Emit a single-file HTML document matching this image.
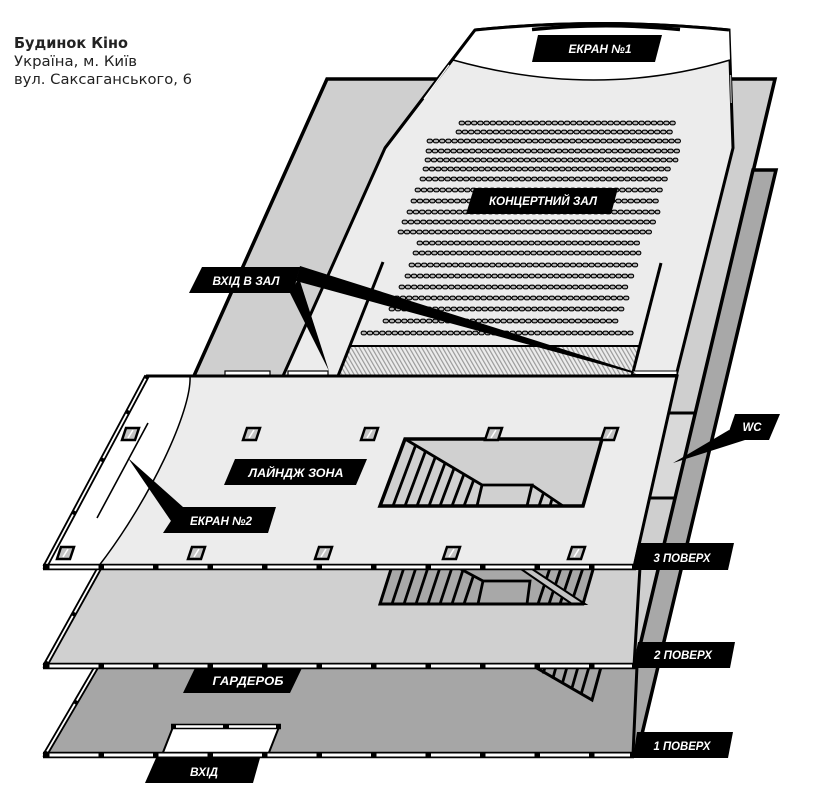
<!DOCTYPE html>
<html><head><meta charset="utf-8"><style>
html,body{margin:0;padding:0;background:#fff;}
svg{display:block;}
.so{stroke:#000;stroke-width:4.8;stroke-dasharray:1.6 4.6;stroke-linecap:round;fill:none}
.si{stroke:#b4b4b4;stroke-width:2.6;stroke-dasharray:1.6 4.6;stroke-linecap:round;fill:none}
.lb{font-family:"Liberation Sans",sans-serif;font-weight:bold;font-style:italic;font-size:12px;fill:#fff;}
.st{stroke:#000;stroke-width:2.8;fill:none}
.col{fill:#c4c4c4;stroke:#000;stroke-width:2.5}
.cw{stroke:#fff;stroke-width:1.6}
</style></head><body>
<svg xmlns="http://www.w3.org/2000/svg" width="814" height="808" viewBox="0 0 814 808">
<defs>
<pattern id="hatch" width="3.6" height="3.6" patternUnits="userSpaceOnUse" patternTransform="rotate(-30)">
<rect width="3.6" height="3.6" fill="#ececec"/><rect width="1.2" height="3.6" fill="#9a9a9a"/></pattern>
</defs>
<rect width="814" height="808" fill="#fff"/>

<!-- title -->
<text x="14" y="48" font-family="DejaVu Sans, Liberation Sans, sans-serif" font-weight="bold" font-size="15" fill="#222" textLength="114" lengthAdjust="spacingAndGlyphs">Будинок Кіно</text>
<text x="14" y="66" font-family="DejaVu Sans, Liberation Sans, sans-serif" font-size="14" fill="#222" textLength="123" lengthAdjust="spacingAndGlyphs">Україна, м. Київ</text>
<text x="14" y="84" font-family="DejaVu Sans, Liberation Sans, sans-serif" font-size="14" fill="#222" textLength="178" lengthAdjust="spacingAndGlyphs">вул. Саксаганського, 6</text>

<!-- back panel A -->
<polygon points="327,79 775,79 636,666 64,666" fill="#cfcfcf" stroke="#000" stroke-width="3.5"/>
<!-- WC box -->
<polygon points="640,413 696,413 676,498 620,498" fill="#d9d9d9"/>
<line x1="640" y1="413" x2="696" y2="413" stroke="#000" stroke-width="3"/>
<line x1="620" y1="498" x2="676" y2="498" stroke="#000" stroke-width="3"/>
<!-- panel B -->
<polygon points="753,170 776,170 637,755 614,755" fill="#a8a8a8" stroke="#000" stroke-width="3.5"/>

<!-- hall -->
<path d="M475,30 Q602,17 729,30 L733,148 L676,376 L283,376 L385,148 Z" fill="#ececec" stroke="#000" stroke-width="3"/>
<path d="M475,30 Q602,17 729,30 L730,60 Q596,100 453,60 Z" fill="#fff"/>
<path d="M730,60 Q596,100 453,60" fill="none" stroke="#000" stroke-width="1.5"/>
<path d="M475,30 Q602,17 729,30" fill="none" stroke="#000" stroke-width="3"/>
<line x1="475" y1="30" x2="385" y2="148" stroke="#000" stroke-width="3"/>
<line x1="449" y1="65" x2="424" y2="99" stroke="#fff" stroke-width="1.2"/>
<line x1="730.5" y1="75" x2="731.3" y2="103" stroke="#aaa" stroke-width="1.3"/>
<path d="M532,29.5 Q606,22 680,29.5" fill="none" stroke="#000" stroke-width="3.5"/>

<!-- seats -->
<g>
<line class="so" x1="461" y1="123" x2="675" y2="123"/><line class="si" x1="461" y1="123" x2="675" y2="123"/>
<line class="so" x1="458" y1="132" x2="673" y2="132"/><line class="si" x1="458" y1="132" x2="673" y2="132"/>
<line class="so" x1="429" y1="141" x2="680" y2="141"/><line class="si" x1="429" y1="141" x2="680" y2="141"/>
<line class="so" x1="428" y1="151" x2="678" y2="151"/><line class="si" x1="428" y1="151" x2="678" y2="151"/>
<line class="so" x1="427" y1="160" x2="676" y2="160"/><line class="si" x1="427" y1="160" x2="676" y2="160"/>
<line class="so" x1="425" y1="169" x2="670" y2="169"/><line class="si" x1="425" y1="169" x2="670" y2="169"/>
<line class="so" x1="422" y1="179" x2="667" y2="179"/><line class="si" x1="422" y1="179" x2="667" y2="179"/>
<line class="so" x1="417" y1="190" x2="663" y2="190"/><line class="si" x1="417" y1="190" x2="663" y2="190"/>
<line class="so" x1="413" y1="201" x2="660" y2="201"/><line class="si" x1="413" y1="201" x2="660" y2="201"/>
<line class="so" x1="409" y1="212" x2="658" y2="212"/><line class="si" x1="409" y1="212" x2="658" y2="212"/>
<line class="so" x1="404" y1="222" x2="655" y2="222"/><line class="si" x1="404" y1="222" x2="655" y2="222"/>
<line class="so" x1="400" y1="232" x2="652" y2="232"/><line class="si" x1="400" y1="232" x2="652" y2="232"/>
<line class="so" x1="419" y1="243" x2="642" y2="243"/><line class="si" x1="419" y1="243" x2="642" y2="243"/>
<line class="so" x1="415" y1="253" x2="639" y2="253"/><line class="si" x1="415" y1="253" x2="639" y2="253"/>
<line class="so" x1="411" y1="265" x2="636" y2="265"/><line class="si" x1="411" y1="265" x2="636" y2="265"/>
<line class="so" x1="407" y1="276" x2="633" y2="276"/><line class="si" x1="407" y1="276" x2="633" y2="276"/>
<line class="so" x1="401" y1="287" x2="630" y2="287"/><line class="si" x1="401" y1="287" x2="630" y2="287"/>
<line class="so" x1="396" y1="298" x2="627" y2="298"/><line class="si" x1="396" y1="298" x2="627" y2="298"/>
<line class="so" x1="391" y1="309" x2="624" y2="309"/><line class="si" x1="391" y1="309" x2="624" y2="309"/>
<line class="so" x1="385" y1="321" x2="620" y2="321"/><line class="si" x1="385" y1="321" x2="620" y2="321"/>
<line class="so" x1="363" y1="333" x2="634" y2="333"/><line class="si" x1="363" y1="333" x2="634" y2="333"/>
</g>

<!-- hatched band and inner walls -->
<polygon points="350,346 639,346 632,375 339,375" fill="url(#hatch)"/>
<line x1="350" y1="346" x2="639" y2="346" stroke="#000" stroke-width="2"/>
<line x1="383" y1="262" x2="338" y2="376" stroke="#000" stroke-width="3"/>
<line x1="661" y1="263" x2="632" y2="376" stroke="#000" stroke-width="3"/>

<!-- hall labels -->
<polygon points="538,35 662,35 655,62 532,62" fill="#000"/>
<text class="lb" x="600" y="53" text-anchor="middle" textLength="63" lengthAdjust="spacingAndGlyphs">ЕКРАН №1</text>
<polygon points="474,188 618,188 611,214 466,214" fill="#000"/>
<text class="lb" x="543" y="205" text-anchor="middle" textLength="108" lengthAdjust="spacingAndGlyphs">КОНЦЕРТНИЙ ЗАЛ</text>

<!-- window bars at floor 3 top -->
<rect x="225" y="371" width="45" height="4.5" fill="#fff" stroke="#000" stroke-width="1.2"/>
<rect x="288" y="371" width="40" height="4.5" fill="#fff" stroke="#000" stroke-width="1.2"/>
<rect x="633" y="371" width="44" height="3.5" fill="#fff" stroke="#000" stroke-width="1"/>

<!-- floor 1 -->
<polygon points="97,666 637,666 633,755 45,755" fill="#a6a6a6" stroke="#000" stroke-width="3"/>
<polygon points="535,667 601,667 592,700" fill="#a6a6a6"/>
<g class="st">
<line x1="545" y1="667" x2="543.3" y2="673.6"/>
<line x1="556" y1="667" x2="552.8" y2="678.7"/>
<line x1="567" y1="667" x2="562.2" y2="683.9"/>
<line x1="578" y1="667" x2="571.7" y2="689"/>
<line x1="589" y1="667" x2="581.1" y2="694.2"/>
</g>
<polygon points="535,667 601,667 592,700" fill="none" stroke="#000" stroke-width="3"/>
<polygon points="173,727 279,727 268,755 162,755" fill="#fff" stroke="#000" stroke-width="2"/>
<line x1="171" y1="726.5" x2="281" y2="726.5" stroke="#000" stroke-width="5.5"/>
<line x1="176" y1="726.5" x2="223" y2="726.5" stroke="#fff" stroke-width="2.6"/>
<line x1="229" y1="726.5" x2="276" y2="726.5" stroke="#fff" stroke-width="2.6"/>

<!-- floor 2 -->
<polygon points="100,567 640,567 634,666 45,666" fill="#d0d0d0" stroke="#000" stroke-width="3"/>
<polygon points="392,566 594,566 583,604 380,604" fill="#a8a8a8"/>
<g class="st">
<line x1="392" y1="604" x2="404.5" y2="566"/>
<line x1="404" y1="604" x2="416.5" y2="566"/>
<line x1="416" y1="604" x2="428.5" y2="566"/>
<line x1="428" y1="604" x2="440.5" y2="566"/>
<line x1="440" y1="604" x2="452.5" y2="566"/>
<line x1="452" y1="604" x2="463" y2="570"/>
<line x1="464" y1="604" x2="473.4" y2="575.8"/>
<line x1="455" y1="566" x2="483" y2="581"/>
<polyline points="478,604 483,581 530,581 527,604"/>
<line x1="538" y1="604" x2="550" y2="568"/>
<line x1="549" y1="604" x2="561" y2="568"/>
<line x1="560" y1="604" x2="572" y2="568"/>
<line x1="571" y1="604" x2="583" y2="568"/>
</g>
<polygon points="518,567 529,567 585,604 572,604" fill="#c4c4c4" stroke="#000" stroke-width="2"/>
<polygon points="392,566 594,566 583,604 380,604" fill="none" stroke="#000" stroke-width="3"/>

<!-- floor 3 -->
<polygon points="147,376 677,376 634,567 45,567" fill="#ececec" stroke="#000" stroke-width="3"/>
<path d="M147,376 L190,376 C192,410 150,500 98,567 L45,567 Z" fill="#fff"/>
<path d="M190,376 C192,410 150,500 98,567" fill="none" stroke="#000" stroke-width="1.5"/>
<line x1="148" y1="423" x2="97" y2="518" stroke="#000" stroke-width="1.6"/>
<line x1="147" y1="376" x2="677" y2="376" stroke="#000" stroke-width="3"/>

<!-- stairwell floor 3 -->
<polygon points="405,439 602,439 583,506 380,506" fill="#d0d0d0"/>
<g class="st">
<line x1="393" y1="506" x2="415.6" y2="445.4"/>
<line x1="405" y1="506" x2="425.5" y2="451.2"/>
<line x1="417" y1="506" x2="435.3" y2="457.1"/>
<line x1="429" y1="506" x2="445.1" y2="462.9"/>
<line x1="440" y1="506" x2="454.1" y2="468.3"/>
<line x1="452" y1="506" x2="463.9" y2="474.2"/>
<line x1="464" y1="506" x2="473.7" y2="480"/>
<line x1="405" y1="439" x2="482" y2="485"/>
<polyline points="477,506 482,485 532,485 527,506"/>
<line x1="532" y1="485" x2="563" y2="506"/>
<line x1="539" y1="506" x2="543.5" y2="493"/>
<line x1="550" y1="506" x2="552" y2="499"/>
</g>
<polygon points="405,439 602,439 583,506 380,506" fill="none" stroke="#000" stroke-width="3.5"/>

<!-- columns -->
<g>
<polygon class="col" points="126,428 139,428 135,440 122,440"/><line class="cw" x1="128" y1="438" x2="133" y2="430"/>
<polygon class="col" points="247,428 260,428 256,440 243,440"/><line class="cw" x1="249" y1="438" x2="254" y2="430"/>
<polygon class="col" points="365,428 378,428 374,440 361,440"/><line class="cw" x1="367" y1="438" x2="372" y2="430"/>
<polygon class="col" points="489,428 502,428 498,440 485,440"/><line class="cw" x1="491" y1="438" x2="496" y2="430"/>
<polygon class="col" points="605,428 618,428 614,440 601,440"/><line class="cw" x1="607" y1="438" x2="612" y2="430"/>
<polygon class="col" points="61,547 74,547 70,559 57,559"/><line class="cw" x1="63" y1="557" x2="68" y2="549"/>
<polygon class="col" points="192,547 205,547 201,559 188,559"/><line class="cw" x1="194" y1="557" x2="199" y2="549"/>
<polygon class="col" points="319,547 332,547 328,559 315,559"/><line class="cw" x1="321" y1="557" x2="326" y2="549"/>
<polygon class="col" points="447,547 460,547 456,559 443,559"/><line class="cw" x1="449" y1="557" x2="454" y2="549"/>
<polygon class="col" points="572,547 585,547 581,559 568,559"/><line class="cw" x1="574" y1="557" x2="579" y2="549"/>
</g>

<!-- left window edges -->
<line x1="147" y1="376" x2="45" y2="567" stroke="#000" stroke-width="5.5"/>
<line x1="147" y1="376" x2="45" y2="567" stroke="#fff" stroke-width="1.8" stroke-dasharray="0 3 36 4 50 4 56 4 57 20"/>
<line x1="100" y1="567" x2="45" y2="666" stroke="#000" stroke-width="5.5"/>
<line x1="100" y1="567" x2="45" y2="666" stroke="#fff" stroke-width="1.8" stroke-dasharray="0 3 49 4 52 20"/>
<line x1="97" y1="666" x2="45" y2="755" stroke="#000" stroke-width="5.5"/>
<line x1="97" y1="666" x2="45" y2="755" stroke="#fff" stroke-width="1.8" stroke-dasharray="0 3 37 4 55 20"/>

<!-- bottom window bars -->
<line x1="43" y1="567" x2="636" y2="567" stroke="#000" stroke-width="6.5"/>
<line x1="49.5" y1="567" x2="632" y2="567" stroke="#fff" stroke-width="3" stroke-dasharray="49 5.5"/>
<line x1="43" y1="666" x2="636" y2="666" stroke="#000" stroke-width="6.5"/>
<line x1="49.5" y1="666" x2="632" y2="666" stroke="#fff" stroke-width="3" stroke-dasharray="49 5.5"/>
<line x1="43" y1="755" x2="634" y2="755" stroke="#000" stroke-width="6.5"/>
<line x1="49.5" y1="755" x2="630" y2="755" stroke="#fff" stroke-width="3" stroke-dasharray="49 5.5"/>

<!-- pointers -->
<polygon points="300,266 296,281 636,374 632,371" fill="#000"/>
<polygon points="290,293 299,278 329,371" fill="#000"/>
<polygon points="128,458 183,507 171,521" fill="#000"/>
<polygon points="673,463 729,430 745,440" fill="#000"/>

<!-- labels -->
<polygon points="202,267 300,267 293,293 189,293" fill="#000"/>
<text class="lb" x="246" y="285" text-anchor="middle" textLength="67" lengthAdjust="spacingAndGlyphs">ВХІД В ЗАЛ</text>
<polygon points="235,459 367,459 356,485 224,485" fill="#000"/>
<text class="lb" x="296" y="477" text-anchor="middle" textLength="95" lengthAdjust="spacingAndGlyphs">ЛАЙНДЖ ЗОНА</text>
<polygon points="180,507 276,507 268,533 163,533" fill="#000"/>
<text class="lb" x="221" y="525" text-anchor="middle" textLength="62" lengthAdjust="spacingAndGlyphs">ЕКРАН №2</text>
<polygon points="735,414 780,414 769,440 726,440" fill="#000"/>
<text class="lb" x="752" y="431" text-anchor="middle" textLength="19" lengthAdjust="spacingAndGlyphs">WC</text>
<polygon points="638,543 734,543 728,570 632,570" fill="#000"/>
<text class="lb" x="682" y="562" text-anchor="middle" textLength="57" lengthAdjust="spacingAndGlyphs">3 ПОВЕРХ</text>
<polygon points="638,642 735,642 730,668 633,668" fill="#000"/>
<text class="lb" x="683" y="659" text-anchor="middle" textLength="58" lengthAdjust="spacingAndGlyphs">2 ПОВЕРХ</text>
<polygon points="637,732 733,732 728,758 633,758" fill="#000"/>
<text class="lb" x="682" y="750" text-anchor="middle" textLength="57" lengthAdjust="spacingAndGlyphs">1 ПОВЕРХ</text>
<polygon points="195,668 302,668 290,693 183,693" fill="#000"/>
<text class="lb" x="248" y="685" text-anchor="middle" textLength="71" lengthAdjust="spacingAndGlyphs">ГАРДЕРОБ</text>
<polygon points="156,758 260,758 253,783 145,783" fill="#000"/>
<text class="lb" x="204" y="776" text-anchor="middle" textLength="28" lengthAdjust="spacingAndGlyphs">ВХІД</text>
</svg>
</body></html>
